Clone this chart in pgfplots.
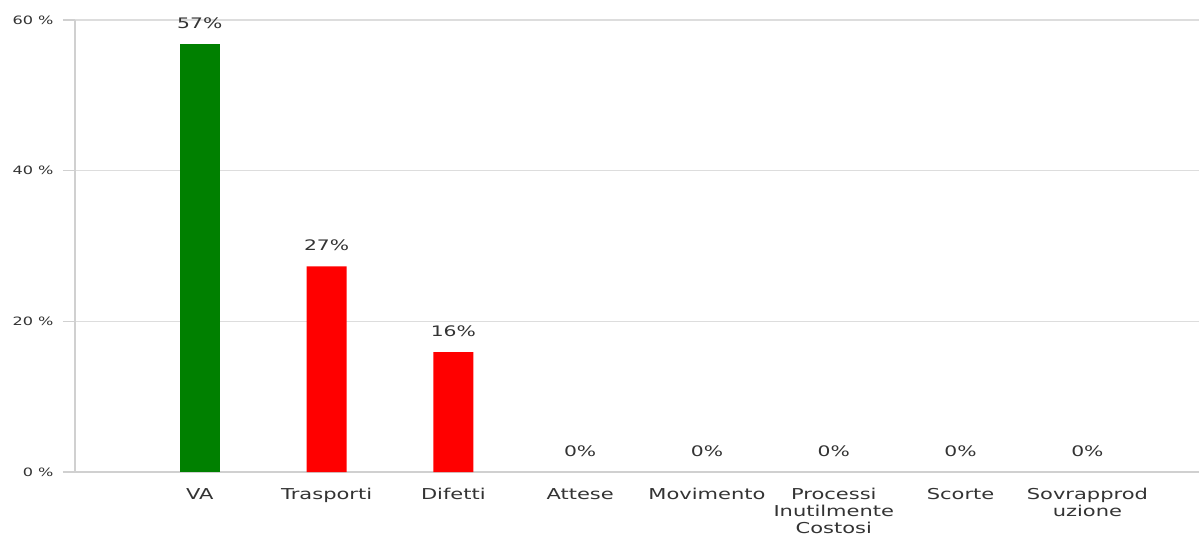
\documentclass[border=0pt]{standalone}
\usepackage{pgfplots}
\pgfplotsset{compat=1.18}
\usepackage{fontspec}
\setmainfont{DejaVu Sans}[FakeStretch=1.4]
\definecolor{gridc}{HTML}{DDDDDD}
\definecolor{axc}{HTML}{D0D0D0}
\definecolor{txt}{HTML}{333333}
\definecolor{vgreen}{HTML}{008000}
\definecolor{vred}{HTML}{FF0000}
\begin{document}
\begin{tikzpicture}
\begin{axis}[
  scale only axis,
  width=1124pt, height=452pt,
  xmin=-0.984, xmax=7.88,
  ymin=0, ymax=60,
  axis x line*=bottom,
  axis y line*=left,
  axis line style={axc, line width=1.5pt},
  xtick={0,...,7},
  xticklabels={VA,Trasporti,Difetti,Attese,Movimento,{Processi\\Inutilmente\\Costosi},Scorte,{Sovrapprod\\uzione}},
  xticklabel style={align=center, font=\fontsize{15}{17}\selectfont, text=txt, inner sep=1pt, yshift=-3pt},
  major x tick style={draw=none},
  ytick={0,20,40,60},
  yticklabels={0 \%,20 \%,40 \%,60 \%},
  yticklabel style={font=\fontsize{11.5}{11.5}\selectfont, text=txt, xshift=-6pt},
  major y tick style={draw=axc, line width=1.5pt},
  major tick length=12pt,
  tick align=outside,
  ymajorgrids,
  major grid style={gridc, line width=1.2pt},
  ybar, bar width=40pt,
  /pgf/number format/assume math mode=true,
  nodes near coords={\pgfmathprintnumber[fixed,precision=0,assume math mode=true]{\pgfplotspointmeta}\%},
  nodes near coords style={font=\fontsize{14.5}{14.5}\selectfont, text=txt, yshift=12pt},
  clip=false,
]
\addplot[fill=vgreen, draw=none, bar shift=0pt] coordinates {(0,56.8)};
\addplot[fill=vred, draw=none, bar shift=0pt] coordinates {(1,27.3) (2,15.9)};
\addplot[fill=none, draw=none, bar shift=0pt] coordinates {(3,0) (4,0) (5,0) (6,0) (7,0)};
\end{axis}
\pgfresetboundingbox
\path (-75pt,-74pt) rectangle (1124pt,472pt);
\end{tikzpicture}
\end{document}
